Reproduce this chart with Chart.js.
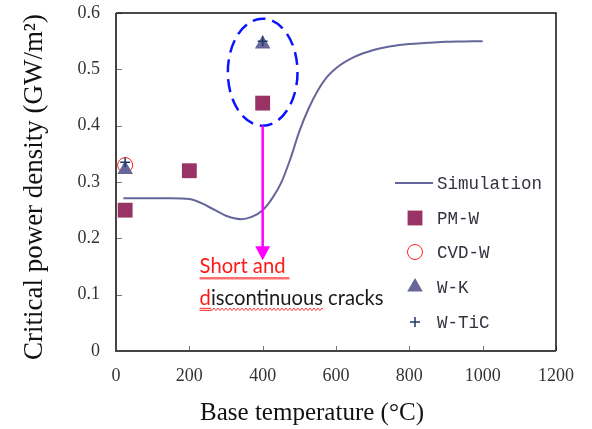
<!DOCTYPE html>
<html><head><meta charset="utf-8">
<script src="https://cdn.jsdelivr.net/npm/chart.js@4/dist/chart.umd.min.js"></script>
<style>html,body{margin:0;padding:0;background:#fff;}#wrap{width:592px;height:429px;position:relative;}</style>
</head><body><div id="wrap"><canvas id="c" width="592" height="429"></canvas></div>
<script>
// ---- data ----
const simTemp    = [20, 50, 100, 150, 200, 250, 300, 340, 370, 400, 425, 450, 475, 500, 525, 550, 575, 600, 650, 700, 750, 800, 850, 900, 950, 1000];
const simDensity = [0.271, 0.271, 0.271, 0.271, 0.270, 0.257, 0.240, 0.234, 0.238, 0.250, 0.270, 0.298, 0.340, 0.390, 0.430, 0.462, 0.486, 0.502, 0.522, 0.534, 0.541, 0.545, 0.547, 0.549, 0.5495, 0.550];
const pmwTemp = [25, 200, 400];
const pmwDensity = [0.25, 0.32, 0.44];
const cvdTemp = [25];
const cvdDensity = [0.33];
const wkTemp = [25, 400];
const wkDensity = [0.322, 0.545];
const wticTemp = [25, 400];
const wticDensity = [0.335, 0.55];
const xTickValues = [0, 200, 400, 600, 800, 1000, 1200];
const xTickLabels = ['0', '200', '400', '600', '800', '1000', '1200'];
const yTickValues = [0, 0.1, 0.2, 0.3, 0.4, 0.5, 0.6];
const yTickLabels = ['0', '0.1', '0.2', '0.3', '0.4', '0.5', '0.6'];
const seriesNames = ['Simulation', 'PM-W', 'CVD-W', 'W-K', 'W-TiC'];
const xTitle = 'Base temperature (°C)';
const yTitle = 'Critical power density (GW/m²)';
const noteLine1 = 'Short and';
const noteLine2a = 'd';
const noteLine2b = 'iscontinuous';
const noteLine2c = ' cracks';

const pts = (xs, ys) => xs.map((x, i) => ({x: x, y: ys[i]}));

const datasets = [
  {label: seriesNames[0], data: pts(simTemp, simDensity), showLine: true, borderColor: '#66669a', borderWidth: 2,
   pointRadius: 0, cubicInterpolationMode: 'monotone', order: 5},
  {label: seriesNames[1], data: pts(pmwTemp, pmwDensity), pointStyle: 'rect', pointRadius: 10.5,
   backgroundColor: '#993366', borderColor: '#993366', borderWidth: 0, order: 4},
  {label: seriesNames[2], data: pts(cvdTemp, cvdDensity), pointStyle: 'circle', pointRadius: 7.5,
   backgroundColor: 'rgba(0,0,0,0)', borderColor: '#ff2020', borderWidth: 1, order: 3},
  {label: seriesNames[3], data: pts(wkTemp, wkDensity), pointStyle: 'triangle', pointRadius: 9,
   backgroundColor: '#666699', borderColor: '#666699', borderWidth: 0, order: 2},
  {label: seriesNames[4], data: pts(wticTemp, wticDensity), pointStyle: 'cross', pointRadius: 5,
   backgroundColor: '#1f3864', borderColor: '#1f3864', borderWidth: 1.5, order: 1}
];

const SERIF = '"Liberation Serif", "DejaVu Serif", serif';
const MONO = '"Liberation Mono", "DejaVu Sans Mono", monospace';
const SANS = 'Lato, "Noto Sans", "Liberation Sans", sans-serif';

function fitFont(ctx, text, family, target) {
  ctx.font = '20px ' + family;
  const w = ctx.measureText(text).width;
  return (20 * target / w).toFixed(2) + 'px ' + family;
}

const decor = {
  id: 'decor',
  afterDatasetsDraw(chart) {
    const ctx = chart.ctx;
    const a = chart.chartArea;
    const xs = chart.scales.x, ys = chart.scales.y;
    const X = v => xs.getPixelForValue(v), Y = v => ys.getPixelForValue(v);
    ctx.save();
    // inner ticks
    ctx.strokeStyle = '#777'; ctx.lineWidth = 1;
    xTickValues.forEach(v => { const px = Math.round(X(v)) + 0.5; ctx.beginPath(); ctx.moveTo(px, a.bottom); ctx.lineTo(px, a.bottom - 5); ctx.stroke(); });
    yTickValues.forEach(v => { const py = Math.round(Y(v)) + 0.5; ctx.beginPath(); ctx.moveTo(a.left, py); ctx.lineTo(a.left + 6, py); ctx.stroke(); });
    // frame
    ctx.strokeStyle = '#111'; ctx.lineWidth = 1.5;
    ctx.beginPath(); ctx.moveTo(a.left, a.top); ctx.lineTo(a.right, a.top); ctx.lineTo(a.right, a.bottom); ctx.stroke();
    ctx.strokeStyle = '#444'; ctx.lineWidth = 2;
    ctx.beginPath(); ctx.moveTo(a.left, a.top); ctx.lineTo(a.left, a.bottom); ctx.lineTo(a.right, a.bottom); ctx.stroke();

    // dashed ellipse around the 400 °C points
    const cx = X(400), cy = Y(0.495);
    const rx = X(495) - X(400), ry = Y(0.40) - Y(0.495);
    ctx.strokeStyle = '#0a14ff'; ctx.lineWidth = 2.5; ctx.setLineDash([13, 7]);
    ctx.beginPath(); ctx.ellipse(cx, cy, rx, ry, 0, 0, Math.PI * 2); ctx.stroke();
    ctx.setLineDash([]);

    // magenta arrow
    const ax = X(400), ay0 = Y(0.40), ay1 = Y(0.161);
    ctx.strokeStyle = '#ff00ff'; ctx.fillStyle = '#ff00ff'; ctx.lineWidth = 2.5;
    ctx.beginPath(); ctx.moveTo(ax, ay0); ctx.lineTo(ax, ay1 - 12); ctx.stroke();
    ctx.beginPath(); ctx.moveTo(ax - 7.5, ay1 - 14); ctx.lineTo(ax + 7.5, ay1 - 14); ctx.lineTo(ax, ay1); ctx.closePath(); ctx.fill();

    // annotation text
    const tx = X(228);
    ctx.textBaseline = 'alphabetic'; ctx.textAlign = 'left';
    ctx.font = fitFont(ctx, noteLine2a + noteLine2b + noteLine2c, SANS, 184);
    const b1 = Y(0.138), b2 = Y(0.082);
    ctx.fillStyle = '#ff1a1a';
    ctx.fillText(noteLine1, tx, b1);
    const w1 = ctx.measureText(noteLine1).width;
    ctx.strokeStyle = '#ff6f6f'; ctx.lineWidth = 2.5;
    ctx.beginPath(); ctx.moveTo(tx, b1 + 5); ctx.lineTo(tx + w1 + 4, b1 + 5); ctx.stroke();
    ctx.fillStyle = '#ff1a1a';
    ctx.fillText(noteLine2a, tx, b2);
    const wa = ctx.measureText(noteLine2a).width;
    ctx.fillStyle = '#1a1a1a';
    ctx.fillText(noteLine2b, tx + wa, b2);
    const wb = ctx.measureText(noteLine2b).width;
    ctx.fillText(noteLine2c, tx + wa + wb, b2);
    ctx.strokeStyle = '#ff2020'; ctx.lineWidth = 1;
    ctx.beginPath(); ctx.moveTo(tx, b2 + 3.5); ctx.lineTo(tx + wa, b2 + 3.5); ctx.moveTo(tx, b2 + 5.5); ctx.lineTo(tx + wa, b2 + 5.5); ctx.stroke();
    ctx.beginPath();
    for (let i = 0; i <= wb; i += 1) {
      const yy = b2 + 4.5 + Math.sin(i / 4 * Math.PI * 2) * 1.2;
      if (i === 0) ctx.moveTo(tx + wa + i, yy); else ctx.lineTo(tx + wa + i, yy);
    }
    ctx.stroke();

    // legend
    const lx = a.left + 299, ltx = a.left + 321;
    const ly = [a.top + 170, a.top + 205, a.top + 239, a.top + 274, a.top + 309];
    ctx.font = '17.5px ' + MONO; ctx.fillStyle = '#333340'; ctx.textBaseline = 'middle';
    seriesNames.forEach((n, i) => ctx.fillText(n, ltx, ly[i] + 1));
    ctx.strokeStyle = datasets[0].borderColor; ctx.lineWidth = 2;
    ctx.beginPath(); ctx.moveTo(lx - 20, ly[0]); ctx.lineTo(lx + 18, ly[0]); ctx.stroke();
    for (let i = 1; i < 5; i++) {
      const d = datasets[i];
      ctx.fillStyle = d.backgroundColor; ctx.strokeStyle = d.borderColor;
      ctx.lineWidth = d.borderWidth;
      Chart.helpers.drawPoint(ctx, {pointStyle: d.pointStyle, radius: d.pointRadius, rotation: 0, borderWidth: d.borderWidth}, lx, ly[i]);
    }

    // axis titles
    ctx.fillStyle = '#111'; ctx.textAlign = 'center'; ctx.textBaseline = 'alphabetic';
    ctx.font = fitFont(ctx, xTitle, SERIF, 224);
    ctx.fillText(xTitle, 312, 420);
    ctx.save(); ctx.translate(42, 187); ctx.rotate(-Math.PI / 2);
    ctx.font = fitFont(ctx, yTitle, SERIF, 346);
    ctx.fillText(yTitle, 0, 0);
    ctx.restore();
    ctx.restore();
  }
};

new Chart(document.getElementById('c'), {
  type: 'scatter',
  data: {datasets: datasets},
  options: {
    responsive: false, animation: false, devicePixelRatio: 1,
    layout: {padding: 0},
    plugins: {legend: {display: false}, tooltip: {enabled: false}},
    scales: {
      x: {type: 'linear', min: 0, max: 1200,
          afterBuildTicks: s => { s.ticks = xTickValues.map(v => ({value: v})); },
          afterFit: s => { s.height = 78; s.paddingLeft = 0; s.paddingRight = 36; },
          grid: {display: false, drawTicks: false}, border: {display: false},
          ticks: {padding: 14, color: '#333', font: {family: SERIF, size: 18},
                  callback: (v, i) => xTickLabels[i]}},
      y: {type: 'linear', min: 0, max: 0.6,
          afterBuildTicks: s => { s.ticks = yTickValues.map(v => ({value: v})); },
          afterFit: s => { s.width = 116; s.paddingTop = 13; s.paddingBottom = 0; },
          grid: {display: false, drawTicks: false}, border: {display: false},
          ticks: {padding: 16, color: '#333', font: {family: SERIF, size: 18},
                  callback: (v, i) => yTickLabels[i]}}
    }
  },
  plugins: [decor]
});
</script></body></html>
